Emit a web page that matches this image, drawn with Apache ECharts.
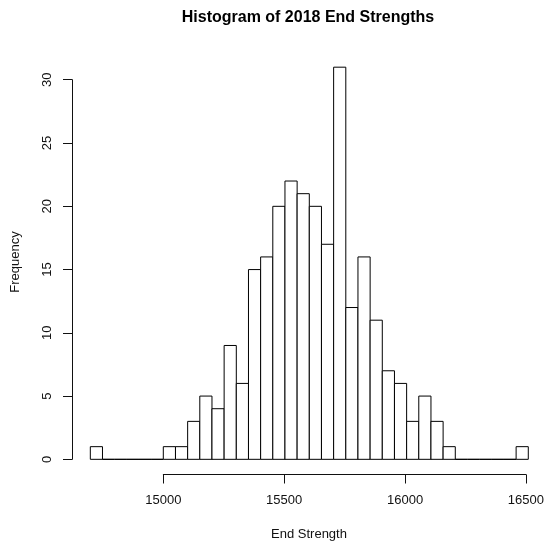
<!DOCTYPE html>
<html>
<head>
<meta charset="utf-8">
<script src="https://cdn.jsdelivr.net/npm/echarts@6/dist/echarts.min.js"></script>
<style>
  html, body { margin: 0; padding: 0; background: #ffffff; }
  #chart { width: 547px; height: 542px; }
</style>
</head>
<body>
<div id="chart"></div>
<script>
// Histogram bins: 50-wide, starting at 14700
const binStart = 14700;
const binWidth = 50;
const counts = [
  1, 0, 0, 0, 0, 0,
  1, 1, 3, 5, 4, 9, 6, 15, 16, 20,
  22, 21, 20, 17, 31, 12, 16, 11, 7, 6,
  3, 5, 3, 1, 0, 0, 0, 0, 0, 1
];
const xTickMin = 15000;
const xTickMax = 16500;
const xTickStep = 500;
const yTickMin = 0;
const yTickMax = 30;
const yTickStep = 5;

const titleText = 'Histogram of 2018 End Strengths';
const xLabel = 'End Strength';
const yLabel = 'Frequency';

// Build [start, end, count] rows for the custom series
const bins = counts.map((c, i) => [binStart + i * binWidth, binStart + (i + 1) * binWidth, c]);

// Plot range padded by 4% on each side, like base R graphics
const xLo = binStart, xHi = binStart + counts.length * binWidth;
const yHi = Math.max(...counts);
const xPad = (xHi - xLo) * 0.04, yPad = yHi * 0.04;

const font = '"Liberation Sans", Arial, sans-serif';
const ink = '#111111';

const chart = echarts.init(document.getElementById('chart'), null, { renderer: 'canvas' });

chart.setOption({
  backgroundColor: '#ffffff',
  animation: false,
  grid: [
    // data region
    { left: 72.8, right: 1.2, top: 51.5, bottom: 67 },
    // x axis (drawn only across the labelled range)
    { left: 163.3, width: 365, top: 51.5, bottom: 67.5 },
    // y axis (drawn only across the labelled range)
    { left: 72, width: 400, top: 79.7, height: 379.6 }
  ],
  xAxis: [
    { gridIndex: 0, type: 'value', min: xLo - xPad, max: xHi + xPad, show: false },
    {
      gridIndex: 1, type: 'value', min: xTickMin, max: xTickMax, interval: xTickStep,
      axisLine: { show: true, lineStyle: { color: ink, width: 1 } },
      axisTick: { show: true, length: 9, lineStyle: { color: ink, width: 1 } },
      axisLabel: { color: ink, fontSize: 13, fontFamily: font, margin: 19, formatter: v => String(v) },
      splitLine: { show: false }
    },
    { gridIndex: 2, type: 'value', min: 0, max: 1, show: false }
  ],
  yAxis: [
    { gridIndex: 0, type: 'value', min: -yPad, max: yHi + yPad, show: false },
    { gridIndex: 1, type: 'value', min: 0, max: 1, show: false },
    {
      gridIndex: 2, type: 'value', min: yTickMin, max: yTickMax, interval: yTickStep,
      axisLine: { show: true, lineStyle: { color: ink, width: 1 } },
      axisTick: { show: true, length: 9, lineStyle: { color: ink, width: 1 } },
      axisLabel: { color: ink, fontSize: 13, fontFamily: font, margin: 18, rotate: 90 },
      splitLine: { show: false }
    }
  ],
  graphic: [
    {
      type: 'text', x: 308, y: 18,
      style: { text: titleText, font: 'bold 16px ' + font, fill: '#000000', align: 'center', verticalAlign: 'middle' }
    },
    {
      type: 'text', x: 309, y: 534,
      style: { text: xLabel, font: '13px ' + font, fill: ink, align: 'center', verticalAlign: 'middle' }
    },
    {
      type: 'text', x: 15, y: 262, rotation: Math.PI / 2,
      style: { text: yLabel, font: '13px ' + font, fill: ink, align: 'center', verticalAlign: 'middle' }
    }
  ],
  series: [
    {
      type: 'custom',
      xAxisIndex: 0,
      yAxisIndex: 0,
      data: bins,
      encode: { x: [0, 1], y: 2 },
      renderItem: function (params, api) {
        const p0 = api.coord([api.value(0), api.value(2)]);
        const p1 = api.coord([api.value(1), 0]);
        return {
          type: 'rect',
          shape: { x: p0[0], y: p0[1], width: p1[0] - p0[0], height: p1[1] - p0[1] },
          style: { fill: '#ffffff', stroke: '#000000', lineWidth: 1 }
        };
      }
    }
  ]
});
</script>
</body>
</html>
